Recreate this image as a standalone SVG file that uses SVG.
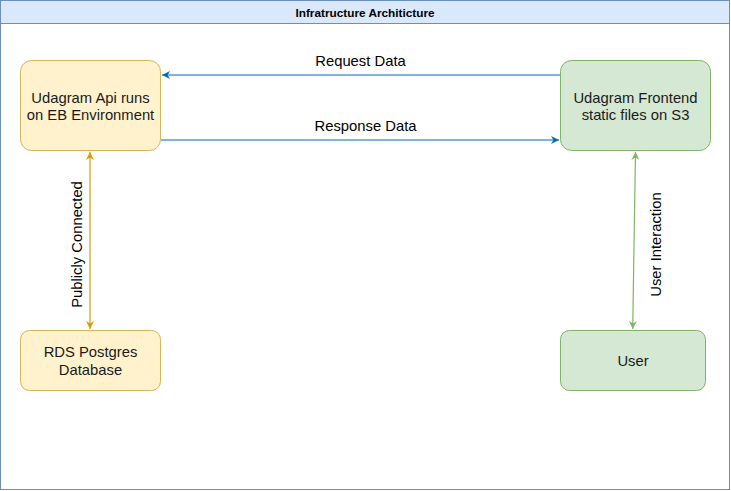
<svg xmlns="http://www.w3.org/2000/svg" width="731" height="491" viewBox="0 0 731 491">
<style>
text{font-family:"Liberation Sans",Arial,sans-serif;}
.title{font-size:11.8px;font-weight:bold;fill:#000;}
.node{font-size:14.8px;fill:#1a1a1a;}
.lbl{font-size:14.8px;fill:#000;}
.yel{fill:#fff2cc;stroke:#d6b656;stroke-width:1;}
.grn{fill:#d5e8d4;stroke:#82b366;stroke-width:1;}
</style>
<defs>
<marker id="ab" viewBox="0 0 10 10" refX="10" refY="5" markerWidth="8" markerHeight="8" markerUnits="userSpaceOnUse" orient="auto-start-reverse"><path d="M0,0 L10,5 L0,10 L3,5 Z" fill="#006eaf"/></marker>
<marker id="ao" viewBox="0 0 10 10" refX="10" refY="5" markerWidth="8" markerHeight="8" markerUnits="userSpaceOnUse" orient="auto-start-reverse"><path d="M0,0 L10,5 L0,10 L3,5 Z" fill="#d79b00"/></marker>
<marker id="ag" viewBox="0 0 10 10" refX="10" refY="5" markerWidth="8" markerHeight="8" markerUnits="userSpaceOnUse" orient="auto-start-reverse"><path d="M0,0 L10,5 L0,10 L3,5 Z" fill="#82b366"/></marker>
</defs>
<rect width="731" height="491" fill="#ffffff"/>
<g id="container">
<rect x="0.5" y="0.5" width="729" height="489" fill="#ffffff" stroke="#6c8ebf"/>
<rect x="0.5" y="0.5" width="729" height="23" fill="#dae8fc" stroke="#6c8ebf"/>
<text class="title" x="365" y="16.5" text-anchor="middle">Infratructure Architicture</text>
</g>
<g id="connectors">
<line x1="560.5" y1="75" x2="162" y2="75" stroke="#006eaf" stroke-width="1.2" marker-end="url(#ab)"/>
<line x1="160.5" y1="140" x2="559" y2="140" stroke="#006eaf" stroke-width="1.2" marker-end="url(#ab)"/>
<line x1="90" y1="152" x2="90" y2="329" stroke="#d79b00" stroke-width="1.2" marker-start="url(#ao)" marker-end="url(#ao)"/>
<line x1="635.5" y1="152" x2="632.7" y2="329" stroke="#82b366" stroke-width="1.2" marker-start="url(#ag)" marker-end="url(#ag)"/>
<text class="lbl" x="360.5" y="66" text-anchor="middle">Request Data</text>
<text class="lbl" x="365.5" y="131" text-anchor="middle">Response Data</text>
<text class="lbl" transform="translate(81.5,244.5) rotate(-90)" text-anchor="middle">Publicly Connected</text>
<text class="lbl" transform="translate(661,244.5) rotate(-90)" text-anchor="middle">User Interaction</text>
</g>
<g id="api">
<rect class="yel" x="20.5" y="60.5" width="140" height="90" rx="11"/>
<text class="node" x="90.5" y="103" text-anchor="middle">Udagram Api runs</text>
<text class="node" x="90.5" y="120" text-anchor="middle">on EB Environment</text>
</g>
<g id="frontend">
<rect class="grn" x="560.5" y="60.5" width="150" height="90" rx="11"/>
<text class="node" x="635.5" y="103" text-anchor="middle">Udagram Frontend</text>
<text class="node" x="635.5" y="120" text-anchor="middle">static files on S3</text>
</g>
<g id="rds">
<rect class="yel" x="20.5" y="330.5" width="140" height="60" rx="9"/>
<text class="node" x="90.5" y="357" text-anchor="middle">RDS Postgres</text>
<text class="node" x="90.5" y="375" text-anchor="middle">Database</text>
</g>
<g id="user">
<rect class="grn" x="560.5" y="330.5" width="145" height="60" rx="9"/>
<text class="node" x="633" y="366" text-anchor="middle">User</text>
</g>
</svg>
